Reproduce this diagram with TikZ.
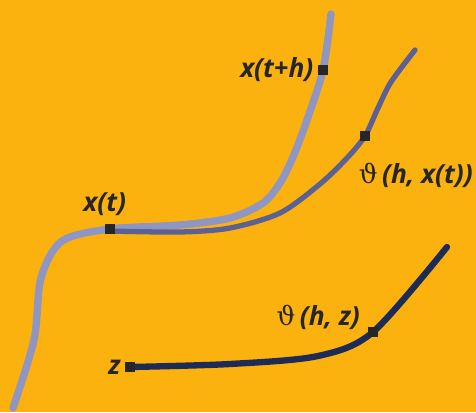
\documentclass[tikz,border=0pt]{standalone}
\usepackage{amsmath}
\usepackage{fontspec}
\setsansfont{Open Sans}
\newfontfamily\thetafont{DejaVu Serif}
\usepackage{tikz}
\usetikzlibrary{positioning}

\definecolor{bgorange}{HTML}{FBB20F}
\definecolor{lightpath}{HTML}{8F96C2}
\definecolor{midpath}{HTML}{5B6195}
\definecolor{darkpath}{HTML}{1E2C55}

\newcommand{\vth}{{\thetafont\mdseries\upshape ϑ}}

\tikzset{
	marker/.style={fill=black!85, minimum size=6.2pt, inner sep=0pt},
	lbl/.style={font=\fontsize{15}{17}\selectfont\sffamily\bfseries\itshape, text=black!85, inner sep=1pt},
	curve/.style={line cap=round, smooth, tension=0.5}
}

\begin{document}
\begin{tikzpicture}[x=0.02cm, y=-0.02cm]
		\fill[bgorange] (0, 0) rectangle (476, 412);

		% points on the flow x
		\coordinate (L1) at (13, 408);
		\coordinate (L2) at (34, 340);
		\coordinate (L3) at (41, 278);
		\coordinate (L4) at (62, 241);
		\coordinate (L5) at (110, 229);
		\coordinate (L6) at (180, 225);
		\coordinate (L7) at (230, 218);
		\coordinate (L8) at (263, 203);
		\coordinate (L9) at (280, 183);
		\coordinate (L10) at (293, 157);
		\coordinate (L11) at (307, 120);
		\coordinate (L12) at (323, 70);
		\coordinate (L13) at (331, 14);

		% points on the flow from x(t)
		\coordinate (M1) at (110, 231);
		\coordinate (M2) at (180, 232);
		\coordinate (M3) at (230, 228);
		\coordinate (M4) at (280, 213);
		\coordinate (M5) at (320, 184);
		\coordinate (M6) at (347, 158);
		\coordinate (M7) at (365, 136);
		\coordinate (M8) at (378, 108);
		\coordinate (M9) at (391, 82);
		\coordinate (M10) at (415, 50);

		% points on the flow from z
		\coordinate (D1) at (130, 367);
		\coordinate (D2) at (230, 364);
		\coordinate (D3) at (318, 356);
		\coordinate (D4) at (373, 332);
		\coordinate (D5) at (447, 247);

		\draw[curve, lightpath, line width=4.2pt] plot coordinates {(L1) (L2) (L3) (L4) (L5) (L6) (L7) (L8) (L9) (L10) (L11) (L12) (L13)};
		\draw[curve, midpath, line width=3pt] plot coordinates {(M1) (M2) (M3) (M4) (M5) (M6) (M7) (M8) (M9) (M10)};
		\draw[curve, darkpath, line width=3.6pt] plot coordinates {(D1) (D2) (D3) (D4) (D5)};

		\node[marker] (xt) at (L5) {};
		\node[marker] (xth) at (L12) {};
		\node[marker] (thx) at (M7) {};
		\node[marker] (z) at (D1) {};
		\node[marker] (thz) at (D4) {};

		\node[lbl, above=3pt of xt, xshift=-3pt] (xtlbl) {x(t)};
		\node[lbl, left=1pt of xth] (xthlbl) {x(t+h)};
		\node[lbl, below right=11pt and -8pt of thx] (thxlbl) {\vth\,(h, x(t))};
		\node[lbl, above left=-3pt and 3pt of thz] (thzlbl) {\vth\,(h, z)};
		\node[lbl, left=1pt of z] (zlbl) {z};
	\end{tikzpicture}
\end{document}
